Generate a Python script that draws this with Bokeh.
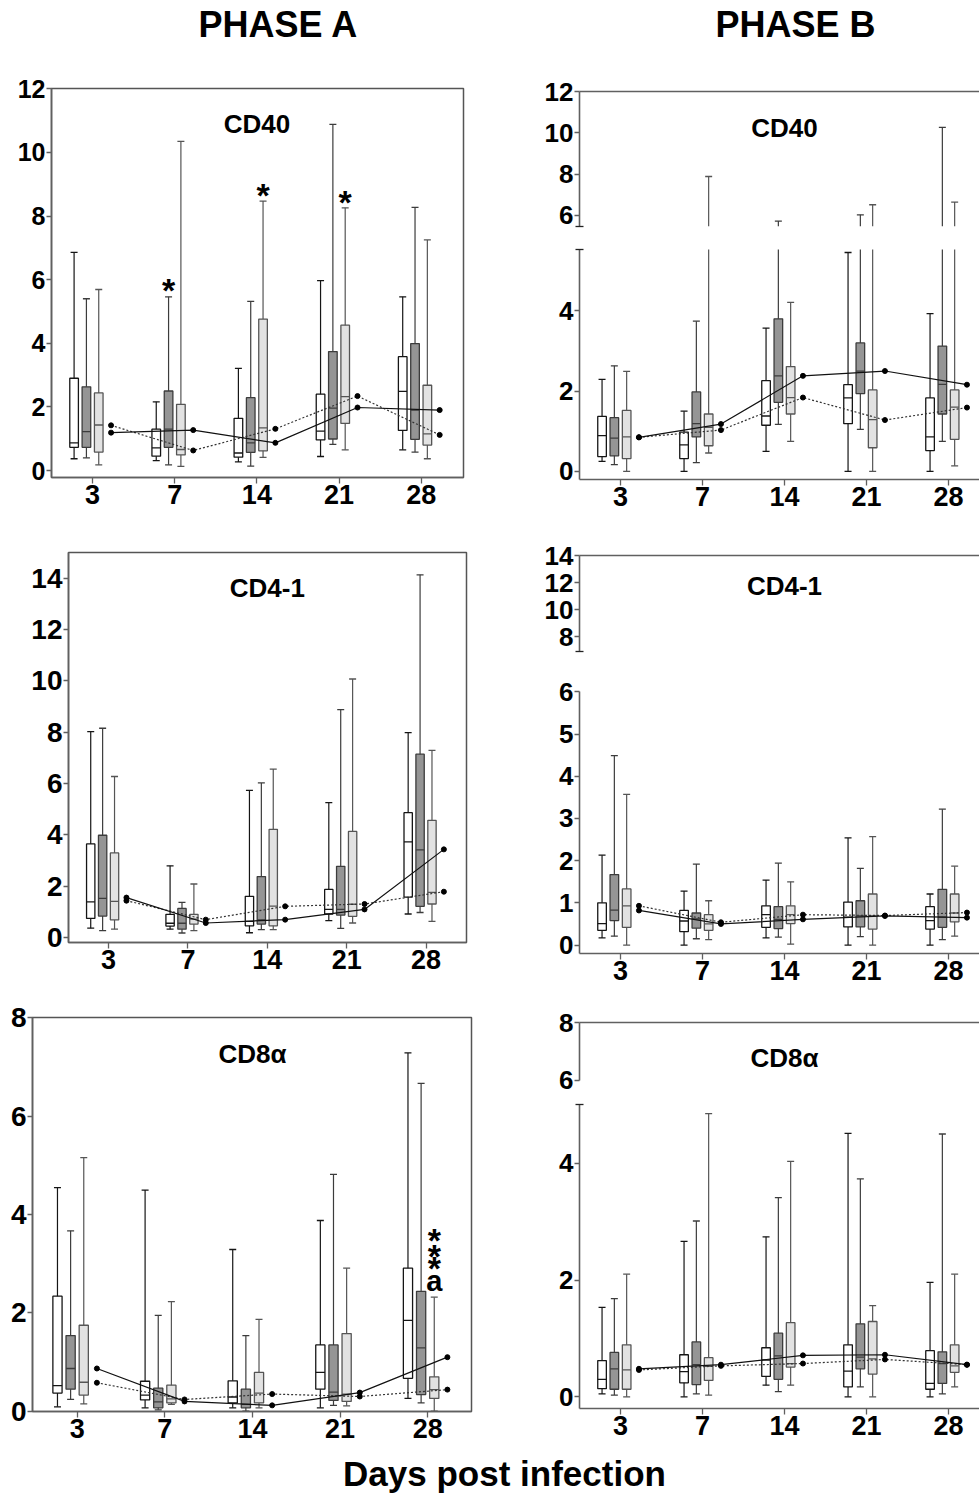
from bokeh.plotting import figure
from bokeh.layouts import column, row
from bokeh.models import FixedTicker, LinearAxis, ColumnDataSource, Range1d, Label
from bokeh.core.properties import value
from bokeh.embed import file_html
from bokeh.resources import INLINE

# ---------------- data ----------------
days = ["3", "7", "14", "21", "28"]
# each entry per day: [min, q1, median, q3, max]
# Phase A - CD40
a_cd40_white = [[0.37, 0.73, 0.87, 2.90, 6.86], [0.31, 0.45, 0.71, 1.30, 2.16], [0.27, 0.42, 0.55, 1.64, 3.21], [0.44, 0.96, 1.24, 2.40, 5.97], [0.65, 1.26, 2.49, 3.58, 5.46]]
a_cd40_dark = [[0.40, 0.73, 1.22, 2.63, 5.40], [0.18, 0.73, 1.30, 2.50, 5.46], [0.14, 0.57, 0.87, 2.29, 5.32], [0.82, 0.99, 1.96, 3.74, 10.88], [0.58, 0.98, 1.90, 3.99, 8.27]]
a_cd40_light = [[0.18, 0.58, 1.43, 2.44, 5.69], [0.13, 0.49, 0.66, 2.08, 10.35], [0.41, 0.62, 1.34, 4.76, 8.47], [0.65, 1.48, 2.32, 4.57, 8.26], [0.37, 0.80, 1.15, 2.68, 7.25]]
a_cd40_solid = [1.19, 1.27, 0.87, 1.98, 1.90]
a_cd40_dotted = [1.42, 0.63, 1.31, 2.34, 1.12]
a_cd40_mark_text = ["*", "*", "*"]
a_cd40_mark_day = ["7", "14", "21"]
a_cd40_mark_group = [1, 2, 2]
a_cd40_mark_y = [5.89, 8.89, 8.66]

# Phase A - CD4-1
a_cd4_white = [[0.36, 0.74, 1.38, 3.64, 8.02], [0.32, 0.44, 0.55, 0.90, 2.79], [0.18, 0.45, 0.62, 1.60, 5.73], [0.65, 0.91, 1.09, 1.87, 5.25], [0.91, 1.57, 3.72, 4.86, 7.98]]
a_cd4_dark = [[0.26, 0.83, 1.52, 3.98, 8.15], [0.17, 0.32, 0.55, 1.13, 1.36], [0.30, 0.52, 0.68, 2.37, 6.02], [0.35, 0.87, 1.09, 2.77, 8.88], [0.97, 1.21, 3.41, 7.14, 14.13]]
a_cd4_light = [[0.32, 0.68, 1.40, 3.29, 6.27], [0.26, 0.52, 0.71, 0.90, 2.08], [0.30, 0.45, 1.22, 4.21, 6.56], [0.56, 0.82, 1.29, 4.13, 10.07], [0.62, 1.30, 1.75, 4.56, 7.29]]
a_cd4_solid = [1.55, 0.56, 0.69, 1.09, 3.43]
a_cd4_dotted = [1.43, 0.69, 1.21, 1.30, 1.78]

# Phase A - CD8a
a_cd8_white = [[0.09, 0.37, 0.52, 2.34, 4.55], [0.07, 0.23, 0.33, 0.61, 4.50], [0.07, 0.17, 0.29, 0.62, 3.29], [0.07, 0.45, 0.79, 1.35, 3.88], [0.26, 0.67, 1.85, 2.91, 7.29]]
a_cd8_dark = [[0.24, 0.45, 0.87, 1.54, 3.67], [0.03, 0.07, 0.19, 0.47, 1.95], [0.00, 0.07, 0.14, 0.45, 1.54], [0.12, 0.22, 0.39, 1.35, 4.82], [0.17, 0.34, 1.29, 2.44, 6.67]]
a_cd8_light = [[0.15, 0.33, 0.59, 1.75, 5.16], [0.14, 0.17, 0.25, 0.53, 2.23], [0.07, 0.17, 0.37, 0.79, 1.87], [0.11, 0.20, 0.35, 1.58, 2.91], [0.00, 0.26, 0.44, 0.70, 2.32]]
a_cd8_solid = [0.87, 0.20, 0.12, 0.38, 1.10]
a_cd8_dotted = [0.58, 0.24, 0.35, 0.30, 0.44]
a_cd8_star_day = ["28", "28", "28"]
a_cd8_star_group = [2, 2, 2]
a_cd8_star_y = [3.63, 3.31, 3.05]
a_cd8_letter = ["a"]
a_cd8_letter_day = ["28"]
a_cd8_letter_group = [2]
a_cd8_letter_y = [2.61]

# Phase B - CD40
b_cd40_white = [[0.25, 0.37, 0.89, 1.37, 2.29], [0.00, 0.32, 0.66, 0.98, 1.50], [0.50, 1.15, 1.38, 2.26, 3.57], [0.00, 1.19, 1.83, 2.16, 5.45], [0.00, 0.52, 0.86, 1.83, 3.93]]
b_cd40_dark = [[0.17, 0.39, 0.83, 1.34, 2.63], [0.22, 0.86, 1.19, 1.98, 3.74], [1.17, 1.72, 2.38, 3.80, 5.73], [1.05, 1.94, 2.50, 3.20, 6.03], [0.75, 1.43, 2.17, 3.12, 10.27]]
b_cd40_light = [[0.00, 0.32, 0.86, 1.52, 2.49], [0.46, 0.64, 1.10, 1.43, 7.89], [0.75, 1.43, 1.84, 2.61, 4.21], [0.00, 0.59, 1.29, 2.03, 6.52], [0.14, 0.80, 1.60, 2.03, 6.65]]
b_cd40_solid = [0.85, 1.18, 2.38, 2.50, 2.16]
b_cd40_dotted = [0.85, 1.03, 1.84, 1.28, 1.59]

# Phase B - CD4-1
b_cd4_white = [[0.17, 0.35, 0.51, 1.00, 2.13], [0.00, 0.32, 0.57, 0.82, 1.28], [0.17, 0.42, 0.72, 0.93, 1.54], [0.00, 0.43, 0.66, 1.02, 2.54], [0.00, 0.38, 0.58, 0.91, 1.21]]
b_cd4_dark = [[0.21, 0.58, 0.83, 1.67, 4.49], [0.15, 0.40, 0.62, 0.76, 1.92], [0.19, 0.39, 0.61, 0.91, 1.94], [0.20, 0.43, 0.69, 1.05, 1.82], [0.13, 0.42, 0.66, 1.32, 3.22]]
b_cd4_light = [[0.00, 0.42, 0.93, 1.33, 3.57], [0.13, 0.35, 0.50, 0.72, 1.05], [0.02, 0.51, 0.72, 0.93, 1.50], [0.00, 0.38, 0.69, 1.21, 2.57], [0.21, 0.55, 0.76, 1.21, 1.87]]
b_cd4_solid = [0.82, 0.50, 0.61, 0.69, 0.65]
b_cd4_dotted = [0.93, 0.54, 0.72, 0.70, 0.77]

# Phase B - CD8a
b_cd8_white = [[0.05, 0.14, 0.30, 0.62, 1.53], [0.00, 0.24, 0.43, 0.72, 2.66], [0.20, 0.35, 0.63, 0.84, 2.74], [0.00, 0.17, 0.44, 0.89, 4.51], [0.00, 0.13, 0.23, 0.79, 1.96]]
b_cd8_dark = [[0.03, 0.13, 0.48, 0.76, 1.68], [0.05, 0.21, 0.55, 0.94, 3.01], [0.09, 0.30, 0.70, 1.09, 3.41], [0.17, 0.48, 0.68, 1.25, 3.73], [0.05, 0.23, 0.57, 0.77, 4.50]]
b_cd8_light = [[0.00, 0.13, 0.46, 0.89, 2.10], [0.03, 0.28, 0.52, 0.67, 4.85], [0.20, 0.51, 0.57, 1.27, 4.03], [0.00, 0.39, 0.65, 1.29, 1.56], [0.17, 0.42, 0.53, 0.89, 2.10]]
b_cd8_solid = [0.48, 0.55, 0.71, 0.72, 0.55]
b_cd8_dotted = [0.46, 0.53, 0.57, 0.64, 0.55]

# ---------------- styles ----------------
FONT = "Liberation Sans"
OFFS = [-0.225, -0.075, 0.075]
LINE_OFF = 0.225
BOX_W = 0.105
FILLS = ["#ffffff", "#959595", "#e2e2e2"]
EDGES = ["#151515", "#3c3c3c", "#555555"]
AX = "#606060"


def base_fig(fw, fh, xr, yr, mbl, mbr, mbt, mbb, xaxis=True):
    p = figure(frame_width=fw, frame_height=fh, x_range=xr, y_range=yr,
               min_border_left=mbl, min_border_right=mbr,
               min_border_top=mbt, min_border_bottom=mbb,
               toolbar_location=None, output_backend="svg",
               x_axis_location="below" if xaxis else None)
    p.frame_align = False
    p.grid.visible = False
    p.background_fill_color = "white"
    p.border_fill_color = "white"
    return p


def style_y(p, ticks, size, minor=()):
    ax = p.yaxis[0]
    ax.ticker = FixedTicker(ticks=list(ticks), minor_ticks=list(minor))
    ax.major_label_text_font = FONT
    ax.major_label_text_font_style = "bold"
    ax.major_label_text_font_size = f"{size}px"
    ax.major_label_text_color = "black"
    ax.axis_line_color = AX
    ax.axis_line_width = 1.6
    ax.major_tick_line_color = AX
    ax.major_tick_line_width = 1.3
    ax.major_tick_out = 5
    ax.major_tick_in = 0
    ax.minor_tick_line_color = "#222222" if minor else None
    ax.minor_tick_line_width = 1.3
    ax.minor_tick_in = 4
    ax.minor_tick_out = 4
    ax.major_label_standoff = 1


def style_x(p):
    ax = p.xaxis[0]
    ax.ticker = FixedTicker(ticks=[i + 1 for i in range(len(days))])
    ax.major_label_overrides = {i + 1: d for i, d in enumerate(days)}
    ax.major_label_text_font = FONT
    ax.major_label_text_font_style = "bold"
    ax.major_label_text_font_size = "27px"
    ax.major_label_text_color = "black"
    ax.axis_line_color = AX
    ax.axis_line_width = 1.6
    ax.major_tick_line_color = AX
    ax.major_tick_line_width = 1.3
    ax.major_tick_out = 6
    ax.major_tick_in = 0
    ax.minor_tick_line_color = None
    ax.major_label_standoff = 1


def add_boxes(p, groups):
    for gi, stats in enumerate(groups):
        xs = [i + 1 + OFFS[gi] for i in range(len(days))]
        src = ColumnDataSource(dict(
            x=xs,
            xl=[x - BOX_W / 2 for x in xs], xr=[x + BOX_W / 2 for x in xs],
            lo=[s[0] for s in stats], q1=[s[1] for s in stats],
            med=[s[2] for s in stats], q3=[s[3] for s in stats],
            hi=[s[4] for s in stats]))
        p.segment(x0="x", y0="lo", x1="x", y1="hi", source=src,
                  line_color=EDGES[gi], line_width=1.2)
        p.vbar(x="x", bottom="q1", top="q3", width=BOX_W, source=src,
               fill_color=FILLS[gi], line_color=EDGES[gi], line_width=1.3)
        p.segment(x0="xl", y0="med", x1="xr", y1="med", source=src,
                  line_color=EDGES[gi], line_width=1.3)
        p.scatter(x="x", y="lo", source=src, marker="dash", size=7,
                  line_color=EDGES[gi], line_width=1.3)
        p.scatter(x="x", y="hi", source=src, marker="dash", size=7,
                  line_color=EDGES[gi], line_width=1.3)


def add_upper_whiskers(p, groups, ymin):
    # only the parts of the whiskers that reach above the axis break
    for gi, stats in enumerate(groups):
        xs = [i + 1 + OFFS[gi] for i in range(len(days))]
        keep = [i for i, s in enumerate(stats) if s[4] > ymin]
        src = ColumnDataSource(dict(
            x=[xs[i] for i in keep],
            lo=[ymin for i in keep],
            hi=[stats[i][4] for i in keep]))
        p.segment(x0="x", y0="lo", x1="x", y1="hi", source=src,
                  line_color=EDGES[gi], line_width=1.2)
        p.scatter(x="x", y="hi", source=src, marker="dash", size=7,
                  line_color=EDGES[gi], line_width=1.3)


def add_lines(p, solid, dotted):
    lx = [i + 1 + LINE_OFF for i in range(len(days))]
    p.line(lx, dotted, line_color="#333333", line_width=1.2, line_dash="2 2")
    p.line(lx, solid, line_color="#111111", line_width=1.2)
    p.scatter(lx, dotted, size=5, fill_color="black", line_color="black")
    p.scatter(lx, solid, size=5, fill_color="black", line_color="black")


def add_text(p, texts, tdays, tgroups, ys, size, yoff):
    xs = [days.index(d) + 1 + OFFS[g] for d, g in zip(tdays, tgroups)]
    p.text(x=xs, y=ys, text=texts, text_font=value(FONT), text_font_style="bold",
           text_font_size=size, text_align="center", text_baseline="middle",
           y_offset=yoff, text_color="black")


def add_title(p, title, yend, down):
    p.add_layout(Label(x=3.0, y=yend, x_units="data", y_units="data", y_offset=-down,
                       text=title, text_font=FONT, text_font_style="bold",
                       text_font_size="26px", text_align="center",
                       text_baseline="middle", text_color="black"))


def panel_a(groups, solid, dotted, title, xr, yr, yticks, ysize, fw, fh, mbl, mbr, mbt, mbb, tdown):
    p = base_fig(fw, fh, Range1d(*xr), Range1d(*yr), mbl, mbr, mbt, mbb)
    style_y(p, yticks, ysize)
    style_x(p)
    p.outline_line_color = "#555555"
    p.outline_line_width = 1.5
    add_boxes(p, groups)
    add_lines(p, solid, dotted)
    add_title(p, title, yr[1], tdown)
    return p


XR_B = (0.5, 5.378)
FW_B = 400


def panel_b(groups, solid, dotted, title, tdown,
            yr_t, ticks_t, minor_t, fh_t, mbt_t, mbb_t,
            yr_b, ticks_b, minor_b, fh_b, mbt_b, mbb_b):
    top = base_fig(FW_B, fh_t, Range1d(*XR_B), Range1d(*yr_t), 51, 0, mbt_t, mbb_t, xaxis=False)
    style_y(top, ticks_t, 26, minor_t)
    above = LinearAxis(ticker=FixedTicker(ticks=[]), axis_line_color=AX, axis_line_width=1.6,
                       major_tick_line_color=None, minor_tick_line_color=None,
                       major_label_text_font_size="0px")
    top.add_layout(above, "above")
    top.outline_line_color = None
    add_upper_whiskers(top, groups, yr_t[0])
    add_title(top, title, yr_t[1], tdown)

    bot = base_fig(FW_B, fh_b, Range1d(*XR_B), Range1d(*yr_b), 51, 0, mbt_b, mbb_b)
    style_y(bot, ticks_b, 26, minor_b)
    style_x(bot)
    bot.outline_line_color = None
    add_boxes(bot, groups)
    add_lines(bot, solid, dotted)
    return top, bot


# ---------------- Phase A ----------------
a1 = panel_a([a_cd40_white, a_cd40_dark, a_cd40_light], a_cd40_solid, a_cd40_dotted, "CD40",
             (0.5, 5.515), (-0.22, 12.01), [0, 2, 4, 6, 8, 10, 12], 25,
             412, 389, 51, 65, 30, 55, 35)
add_text(a1, a_cd40_mark_text, a_cd40_mark_day, a_cd40_mark_group, a_cd40_mark_y, "34px", 7)

a2 = panel_a([a_cd4_white, a_cd4_dark, a_cd4_light], a_cd4_solid, a_cd4_dotted, "CD4-1",
             (0.495, 5.51), (-0.2, 15.0), [0, 2, 4, 6, 8, 10, 12, 14], 28,
             398, 390, 68, 62, 20, 55, 35)

a3 = panel_a([a_cd8_white, a_cd8_dark, a_cd8_light], a_cd8_solid, a_cd8_dotted, "CD8\u03b1",
             (0.49, 5.5), (-0.005, 8.01), [0, 2, 4, 6, 8], 28,
             439, 394, 32, 57, 20, 42, 36)
add_text(a3, ["*"] * len(a_cd8_star_y), a_cd8_star_day, a_cd8_star_group, a_cd8_star_y, "34px", 7)
add_text(a3, a_cd8_letter, a_cd8_letter_day, a_cd8_letter_group, a_cd8_letter_y, "29px", -2)

# ---------------- Phase B ----------------
b1t, b1b = panel_b([b_cd40_white, b_cd40_dark, b_cd40_light], b_cd40_solid, b_cd40_dotted, "CD40", 36,
                   (5.465, 12.01), [6, 8, 10, 12], [5.47], 135, 33, 9,
                   (-0.2, 5.525), [0, 2, 4], [5.52], 230, 14, 56)
b2t, b2b = panel_b([b_cd4_white, b_cd4_dark, b_cd4_light], b_cd4_solid, b_cd4_dotted, "CD4-1", 30,
                   (6.895, 14.01), [8, 10, 12, 14], [6.9], 96, 20, 8,
                   (-0.2, 6.01), [0, 1, 2, 3, 4, 5, 6], [], 262, 32, 49)
b3t, b3b = panel_b([b_cd8_white, b_cd8_dark, b_cd8_light], b_cd8_solid, b_cd8_dotted, "CD8\u03b1", 35,
                   (5.99, 8.01), [6, 8], [], 58, 20, 17,
                   (-0.2, 5.005), [0, 2, 4], [5.0], 304, 7, 45)

# ---------------- header / footer ----------------
header = figure(width=979, height=58, x_range=(0, 979), y_range=(0, 58), min_border=0,
                toolbar_location=None, output_backend="svg",
                x_axis_location=None, y_axis_location=None)
header.grid.visible = False
header.outline_line_color = None
header.text(x=[278, 795], y=[34, 34], text=["PHASE A", "PHASE B"], text_font=value(FONT),
            text_font_style="bold", text_font_size="36px", text_align="center",
            text_baseline="middle", text_color="black")

footer = figure(width=979, height=43, x_range=(0, 979), y_range=(0, 43), min_border=0,
                toolbar_location=None, output_backend="svg",
                x_axis_location=None, y_axis_location=None)
footer.grid.visible = False
footer.outline_line_color = None
footer.text(x=[504], y=[23], text=["Days post infection"], text_font=value(FONT),
            text_font_style="bold", text_font_size="35px", text_align="center",
            text_baseline="middle", text_color="black")

layout = column(header,
                row(column(a1, a2, a3), column(b1t, b1b, b2t, b2b, b3t, b3b)),
                footer)

open("out.html", "w").write(file_html(layout, INLINE))
